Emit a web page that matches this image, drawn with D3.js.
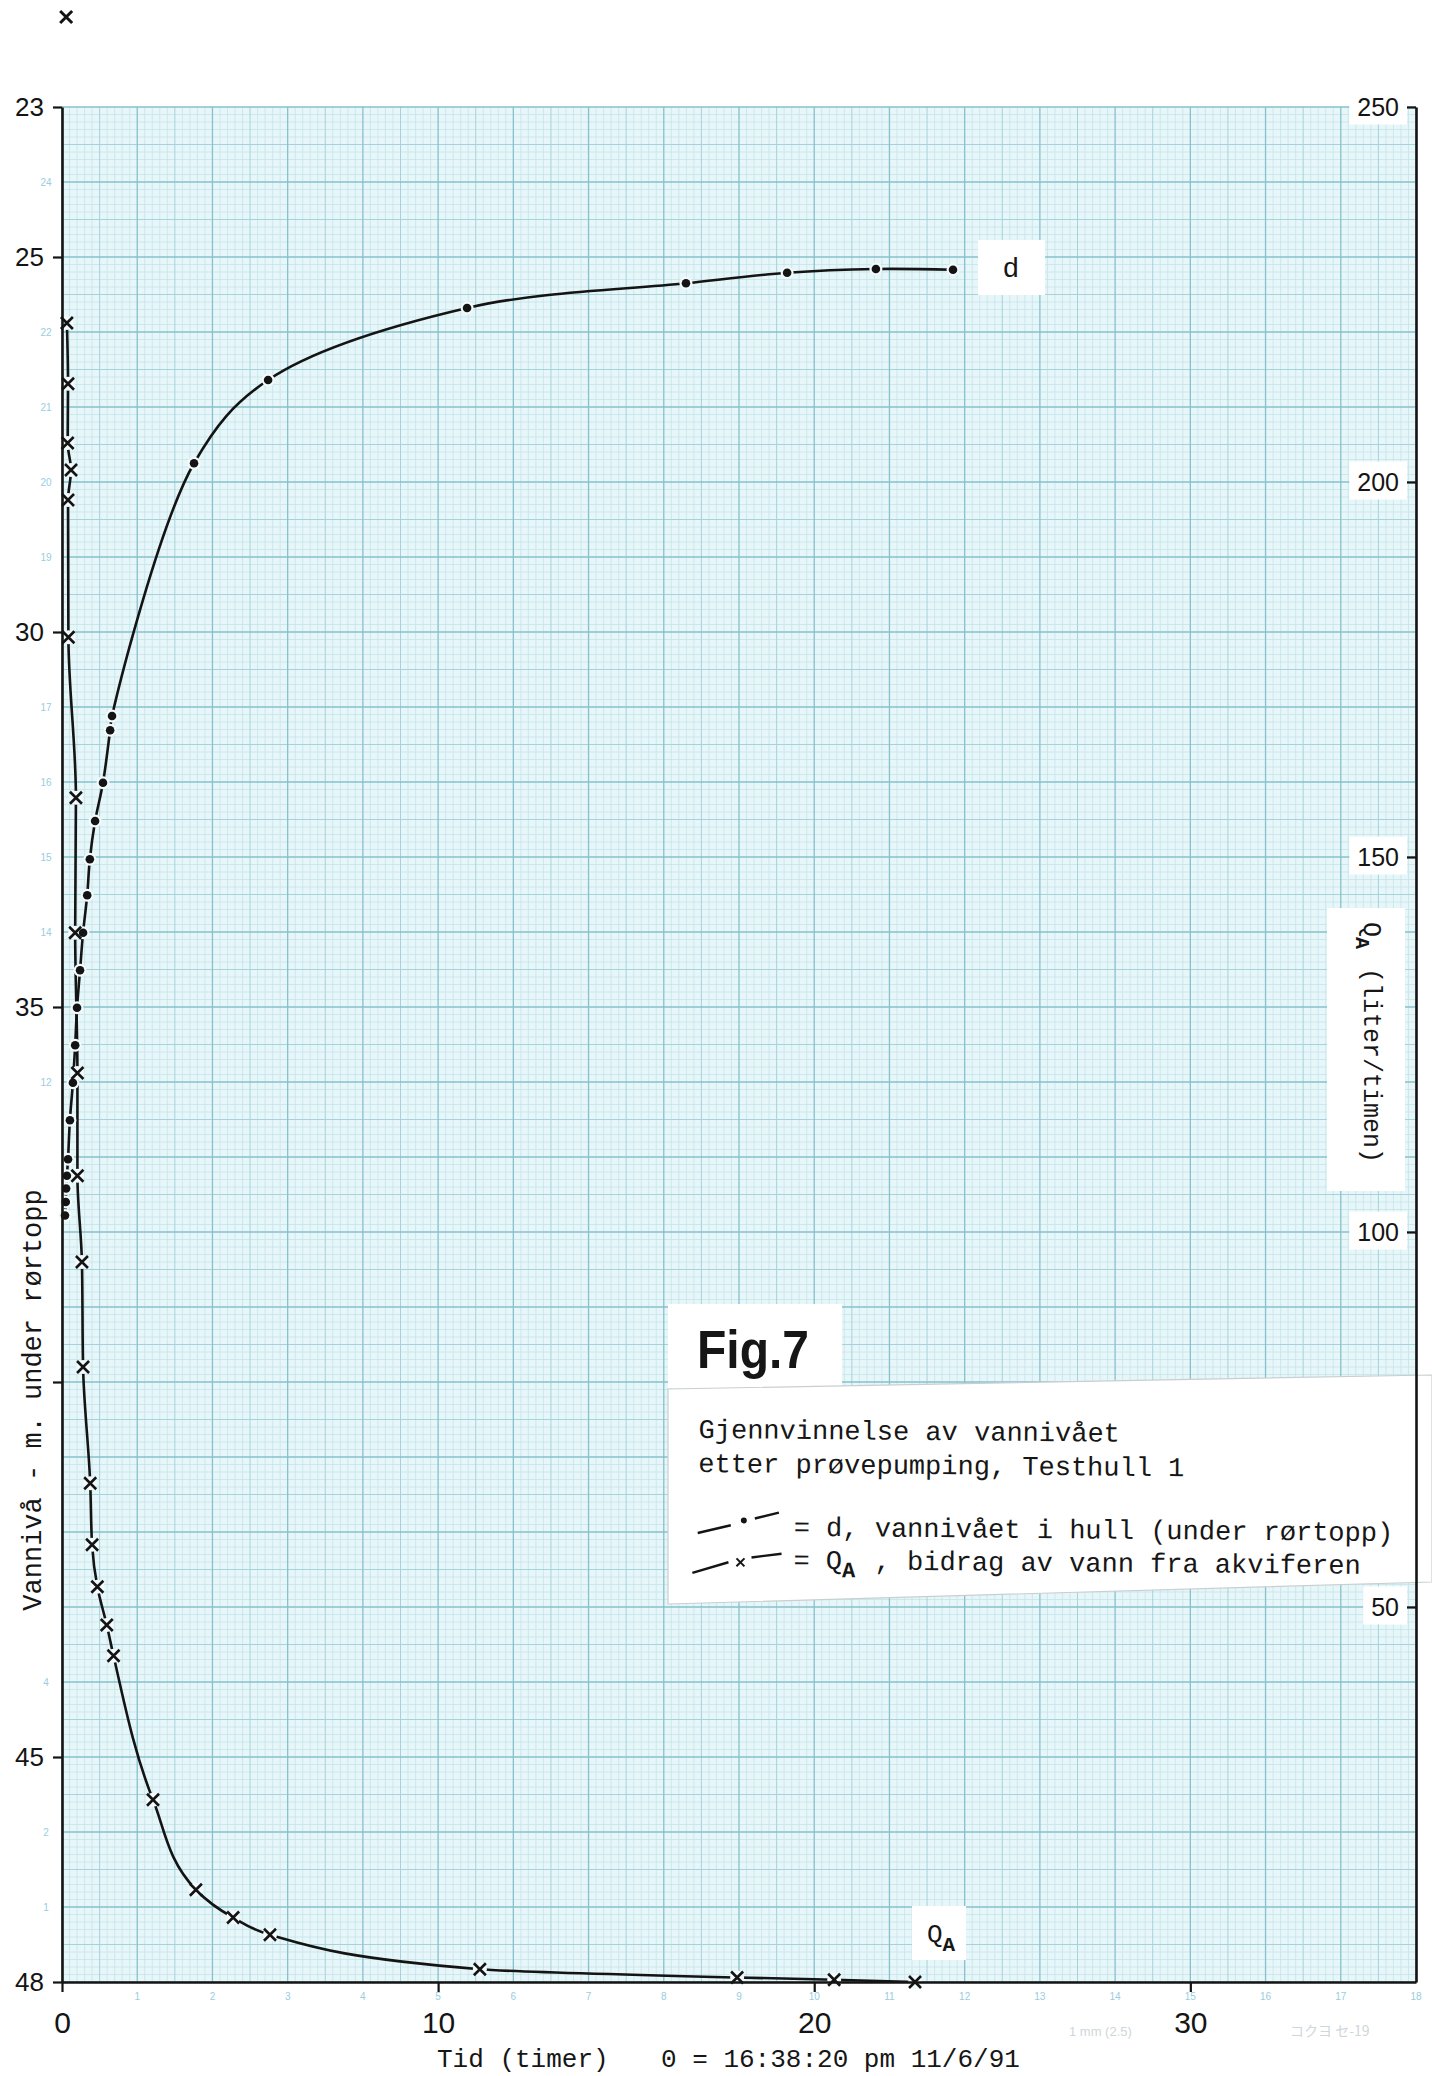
<!DOCTYPE html>
<html lang="no">
<head>
<meta charset="UTF-8">
<title>Fig.7 Gjennvinnelse av vannnivået</title>
<script src="https://d3js.org/d3.v7.min.js"></script>
<style>
  body { margin: 0; background: #fff; }
  svg { display: block; }
  .mono { font-family: "Liberation Mono", "DejaVu Sans Mono", monospace; fill: #161616; }
  .sans { font-family: "Liberation Sans", Arial, sans-serif; fill: #161616; }
</style>
</head>
<body>
<svg id="chart" width="1432" height="2076"></svg>
<script>
// d: water level in the hole, metres below pipe top, against time in hours
const dTime  = [0.08, 0.10, 0.11, 0.13, 0.16, 0.21, 0.29, 0.35, 0.40, 0.48, 0.56, 0.67, 0.74, 0.88, 1.09, 1.28, 1.33, 3.51, 5.48, 10.77, 16.59, 19.28, 21.64, 23.69];
const dLevel = [37.78, 37.60, 37.42, 37.25, 37.03, 36.51, 36.01, 35.51, 35.01, 34.51, 34.01, 33.51, 33.03, 32.52, 32.01, 31.31, 31.12, 27.75, 26.64, 25.68, 25.35, 25.21, 25.16, 25.17];

// QA: inflow from the aquifer, liter per hour
const qaTime = [0.13, 0.16, 0.15, 0.24, 0.16, 0.17, 0.37, 0.35, 0.41, 0.41, 0.53, 0.56, 0.75, 0.80, 0.94, 1.19, 1.37, 2.42, 3.56, 4.55, 5.53, 11.11, 17.95, 20.53, 22.68];
const qaFlow = [221.2, 213.1, 205.2, 201.6, 197.6, 179.3, 157.9, 139.9, 121.2, 107.5, 96.0, 82.0, 66.5, 58.3, 52.7, 47.6, 43.5, 24.3, 12.3, 8.6, 6.3, 1.7, 0.6, 0.3, 0.0];

// one QA reading plotted above the top of the sheet
const qaOffTime = [0.11];
const qaOffFlow = [262];

const timeTicks  = [0, 10, 20, 30];
const levelTicks = [23, 25, 30, 35, 40, 45, 48];
const flowTicks  = [50, 100, 150, 200, 250];

const gLeft = 62, gRight = 1416, gTop = 107, gBottom = 1982;

const x  = d3.scaleLinear().domain([0, 36]).range([gLeft, gRight]);
const yL = d3.scaleLinear().domain([23, 48]).range([gTop, gBottom]);
const yR = d3.scaleLinear().domain([0, 250]).range([gBottom, gTop]);

const svg = d3.select("#chart");
const ink = "#141414";
const paper = "#e6f6f9";

// ---- graph paper (1 mm grid, 180 x 250 mm) ----
const grid = svg.append("g");
grid.append("rect")
  .attr("x", gLeft).attr("y", gTop)
  .attr("width", gRight - gLeft).attr("height", gBottom - gTop)
  .attr("fill", paper);

const mmX = (gRight - gLeft) / 180, mmY = (gBottom - gTop) / 250;
function gridPath(keep) {
  let p = "";
  for (let i = 0; i <= 180; i++) if (keep(i)) p += `M${gLeft + i * mmX},${gTop}V${gBottom}`;
  for (let j = 0; j <= 250; j++) if (keep(j)) p += `M${gLeft},${gTop + j * mmY}H${gRight}`;
  return p;
}
grid.append("path").attr("d", gridPath(i => i % 5 !== 0))
  .attr("stroke", "#c2e2e8").attr("stroke-width", 0.7).attr("fill", "none");
grid.append("path").attr("d", gridPath(i => i % 5 === 0 && i % 10 !== 0))
  .attr("stroke", "#a6d3db").attr("stroke-width", 1).attr("fill", "none");
grid.append("path").attr("d", gridPath(i => i % 10 === 0))
  .attr("stroke", "#88c1cc").attr("stroke-width", 1.3).attr("fill", "none");

// faint cm numbers printed on the paper margin
grid.selectAll("text.cmy").data(d3.range(1, 25)).join("text")
  .attr("class", "sans")
  .attr("x", 46).attr("y", k => gBottom - k * 10 * mmY + 4)
  .attr("text-anchor", "middle").attr("font-size", 10).style("fill", "#98cde0")
  .text(k => k);
grid.selectAll("text.cmx").data(d3.range(1, 19)).join("text")
  .attr("class", "sans")
  .attr("x", k => gLeft + k * 10 * mmX).attr("y", 2000)
  .attr("text-anchor", "middle").attr("font-size", 10).style("fill", "#98cde0")
  .text(k => k);

// ---- curves ----
const dData  = dTime.map((t, i) => [t, dLevel[i]]);
const qaData = qaTime.map((t, i) => [t, qaFlow[i]]);

const lineD = d3.line().x(d => x(d[0])).y(d => yL(d[1])).curve(d3.curveCatmullRom.alpha(0.5));
const lineQ = d3.line().x(d => x(d[0])).y(d => yR(d[1])).curve(d3.curveMonotoneY);

const plot = svg.append("g");
plot.append("path").attr("d", lineD(dData))
  .attr("fill", "none").attr("stroke", ink).attr("stroke-width", 2.6);
plot.append("path").attr("d", lineQ(qaData))
  .attr("fill", "none").attr("stroke", ink).attr("stroke-width", 2.6);

// little breaks in the line around every reading
plot.selectAll("circle.dgap").data(dData).join("circle")
  .attr("cx", d => x(d[0])).attr("cy", d => yL(d[1])).attr("r", 6.5)
  .attr("fill", "#f2fafb");
plot.selectAll("circle.qgap").data(qaData).join("circle")
  .attr("cx", d => x(d[0])).attr("cy", d => yR(d[1])).attr("r", 7)
  .attr("fill", "#f2fafb");

plot.selectAll("circle.dot").data(dData).join("circle")
  .attr("cx", d => x(d[0])).attr("cy", d => yL(d[1])).attr("r", 4.3)
  .attr("fill", ink);

const cross = "M-6,-6L6,6M-6,6L6,-6";
plot.selectAll("path.xq").data(qaData).join("path")
  .attr("transform", d => `translate(${x(d[0])},${yR(d[1])})`)
  .attr("d", cross).attr("stroke", ink).attr("stroke-width", 2.6).attr("fill", "none");
plot.selectAll("path.xoff").data(qaOffTime.map((t, i) => [t, qaOffFlow[i]])).join("path")
  .attr("transform", d => `translate(${x(d[0])},${yR(d[1])})`)
  .attr("d", cross).attr("stroke", ink).attr("stroke-width", 3).attr("fill", "none");

// ---- pasted-on labels ----
// curve label d
svg.append("rect").attr("x", 978).attr("y", 240).attr("width", 67).attr("height", 55).attr("fill", "#fff");
svg.append("text").attr("class", "mono").attr("x", 1011).attr("y", 277)
  .attr("text-anchor", "middle").attr("font-size", 28).text("d");

// curve label QA
svg.append("rect").attr("x", 912).attr("y", 1906).attr("width", 54).attr("height", 54).attr("fill", "#fff");
const qaLab = svg.append("text").attr("class", "mono").attr("x", 927).attr("y", 1942).attr("font-size", 26);
qaLab.append("tspan").text("Q");
qaLab.append("tspan").attr("dy", 9).attr("font-size", 21).attr("font-weight", "bold").text("A");

// Fig.7
svg.append("rect").attr("x", 668).attr("y", 1304).attr("width", 174).attr("height", 84).attr("fill", "#fff");
svg.append("text").attr("class", "sans").attr("x", 697).attr("y", 1368)
  .attr("font-size", 54).attr("font-weight", "bold")
  .attr("textLength", 112).attr("lengthAdjust", "spacingAndGlyphs")
  .text("Fig.7");

// legend slip
svg.append("polygon")
  .attr("points", "668,1389 1432,1375 1432,1582 668,1604")
  .attr("fill", "#fff").attr("stroke", "#c9cfd1").attr("stroke-width", 1.2);

const leg = svg.append("g").attr("transform", "rotate(0.5,698,1500)");
leg.append("text").attr("class", "mono").attr("x", 698).attr("y", 1438)
  .attr("font-size", 27).text("Gjennvinnelse av vannivået");
leg.append("text").attr("class", "mono").attr("x", 698).attr("y", 1472)
  .attr("font-size", 27).text("etter prøvepumping, Testhull 1");

// legend keys
const keyD = leg.append("g");
keyD.append("path").attr("d", "M698,1533L731,1525M755,1518L779,1512")
  .attr("stroke", ink).attr("stroke-width", 2.4).attr("fill", "none");
keyD.append("circle").attr("cx", 744).attr("cy", 1520).attr("r", 3).attr("fill", ink);
leg.append("text").attr("class", "mono").attr("x", 794).attr("y", 1535)
  .attr("font-size", 27).text("= d, vannivået i hull (under rørtopp)");

const keyQ = leg.append("g");
keyQ.append("path").attr("d", "M693,1573L729,1562M752,1557L782,1553")
  .attr("stroke", ink).attr("stroke-width", 2.4).attr("fill", "none");
keyQ.append("path").attr("transform", "translate(741,1562)").attr("d", "M-4,-4L4,4M-4,4L4,-4")
  .attr("stroke", ink).attr("stroke-width", 2).attr("fill", "none");
const qLeg = leg.append("text").attr("class", "mono").attr("x", 794).attr("y", 1568).attr("font-size", 27);
qLeg.append("tspan").text("= Q");
qLeg.append("tspan").attr("dy", 8).attr("font-size", 22).attr("font-weight", "bold").text("A");
qLeg.append("tspan").attr("x", 859).attr("dy", -8).text(" , bidrag av vann fra akviferen");

// ---- axes ----
function styleAxis(g, size) {
  g.select(".domain").attr("stroke", ink).attr("stroke-width", 2.6);
  g.selectAll(".tick line").attr("stroke", ink).attr("stroke-width", 2.2);
  g.selectAll(".tick text").attr("class", "sans").attr("font-size", size).style("fill", ink);
}
function boxLabels(g) {
  g.selectAll(".tick").each(function () {
    const t = d3.select(this).select("text");
    const b = t.node().getBBox();
    d3.select(this).insert("rect", "text")
      .attr("x", b.x - 8).attr("y", b.y - 6)
      .attr("width", b.width + 16).attr("height", b.height + 10)
      .attr("fill", "#fff");
  });
}

const axL = svg.append("g").attr("transform", `translate(${gLeft},0)`)
  .call(d3.axisLeft(yL).tickValues(levelTicks).tickSize(9).tickSizeOuter(0).tickPadding(9).tickFormat(d3.format("d")));
styleAxis(axL, 26);
boxLabels(axL);

const axR = svg.append("g").attr("transform", `translate(${gRight},0)`)
  .call(d3.axisLeft(yR).tickValues(flowTicks).tickSize(9).tickSizeOuter(0).tickPadding(8).tickFormat(d3.format("d")));
styleAxis(axR, 25);
boxLabels(axR);

const axB = svg.append("g").attr("transform", `translate(0,${gBottom})`)
  .call(d3.axisBottom(x).tickValues(timeTicks).tickSize(10).tickSizeOuter(0).tickPadding(20).tickFormat(d3.format("d")));
styleAxis(axB, 30);

// ---- axis titles ----
svg.append("rect").attr("x", 7).attr("y", 1150).attr("width", 46).attr("height", 472).attr("fill", "#fff");
svg.append("text").attr("class", "mono")
  .attr("transform", "translate(41,1400) rotate(-90)")
  .attr("text-anchor", "middle").attr("font-size", 27)
  .text("Vannivå - m. under rørtopp");

svg.append("rect").attr("x", 1327).attr("y", 908).attr("width", 78).attr("height", 283).attr("fill", "#fff");
const rTitle = svg.append("text").attr("class", "mono")
  .attr("transform", "translate(1364,922) rotate(90)")
  .attr("font-size", 25);
rTitle.append("tspan").text("Q");
rTitle.append("tspan").attr("dy", 8).attr("font-size", 20).attr("font-weight", "bold").text("A");
rTitle.append("tspan").attr("x", 46).attr("dy", -8).text("(liter/timen)");

svg.append("text").attr("class", "mono").attr("x", 437).attr("y", 2067)
  .attr("font-size", 26).text("Tid (timer)");
svg.append("text").attr("class", "mono").attr("x", 661).attr("y", 2067)
  .attr("font-size", 26).text("0 = 16:38:20 pm 11/6/91");

// paper maker's print, very faint
svg.append("text").attr("class", "sans").attr("x", 1069).attr("y", 2036)
  .attr("font-size", 13).style("fill", "#cfd6da").text("1 mm (2.5)");
svg.append("text").attr("x", 1290).attr("y", 2036)
  .attr("font-family", "'Noto Sans CJK JP', sans-serif")
  .attr("font-size", 14).style("fill", "#cfd6da").text("コクヨ  セ-19");
</script>
</body>
</html>
